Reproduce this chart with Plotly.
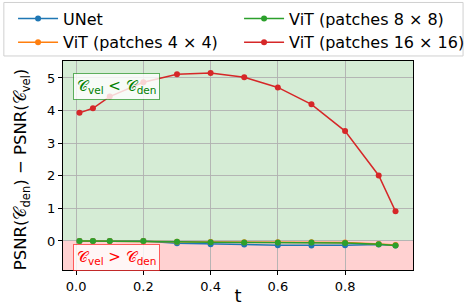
import plotly.graph_objects as go

t = [0.01, 0.05, 0.1, 0.2, 0.3, 0.4, 0.5, 0.6, 0.7, 0.8, 0.9, 0.95]
unet = [0.0, 0.0, 0.0, 0.0, -0.07, -0.10, -0.11, -0.13, -0.14, -0.13, -0.11, -0.14]
vit4 = [0.0, 0.0, 0.0, 0.0, -0.02, -0.03, -0.04, -0.04, -0.04, -0.05, -0.09, -0.12]
vit8 = [0.0, 0.0, 0.0, 0.0, -0.02, -0.04, -0.05, -0.05, -0.05, -0.06, -0.10, -0.14]
vit16 = [3.93, 4.07, 4.43, 4.87, 5.11, 5.15, 5.02, 4.71, 4.19, 3.37, 2.01, 0.91]

names = ["UNet", "ViT (patches 4 × 4)", "ViT (patches 8 × 8)", "ViT (patches 16 × 16)"]
series = [unet, vit4, vit8, vit16]
colors = ["#1f77b4", "#ff7f0e", "#2ca02c", "#d62728"]
legends = ["legend", "legend", "legend2", "legend2"]

xticks = [0.0, 0.2, 0.4, 0.6, 0.8]
yticks = [0, 1, 2, 3, 4, 5]
ytitle = "PSNR(𝒞<sub>den</sub>) − PSNR(𝒞<sub>vel</sub>)"

fig = go.Figure()
for n, s, c, lg in zip(names, series, colors, legends):
    fig.add_trace(go.Scatter(x=t, y=s, name=n, mode="lines+markers",
                             line=dict(color=c, width=1.5),
                             marker=dict(color=c, size=6), legend=lg))

fig.add_shape(type="rect", xref="paper", yref="y", x0=0, x1=1, y0=0, y1=10,
              fillcolor="rgba(44,160,44,0.2)", line_width=0, layer="below")
fig.add_shape(type="rect", xref="paper", yref="y", x0=0, x1=1, y0=-10, y1=0,
              fillcolor="rgba(255,0,0,0.18)", line_width=0, layer="below")
# legend frame
fig.add_shape(type="rect", xref="paper", yref="paper", x0=-0.169, x1=1.143,
              y0=1.024, y1=1.28, line=dict(color="#d0d0d0", width=1),
              fillcolor="rgba(0,0,0,0)", layer="above")

fig.add_annotation(x=0.119, y=4.73, xref="x", yref="y", showarrow=False,
                   text="𝒞<sub>vel</sub> < 𝒞<sub>den</sub>",
                   font=dict(size=15, color="green", family="DejaVu Sans"),
                   bgcolor="rgba(255,255,255,0.8)", bordercolor="rgba(0,128,0,0.6)",
                   borderwidth=1, borderpad=3)
fig.add_annotation(x=0.119, y=-0.51, xref="x", yref="y", showarrow=False,
                   text="𝒞<sub>vel</sub> > 𝒞<sub>den</sub>",
                   font=dict(size=15, color="red", family="DejaVu Sans"),
                   bgcolor="rgba(255,255,255,0.8)", bordercolor="rgba(255,0,0,0.6)",
                   borderwidth=1, borderpad=3)
# y-axis title
fig.add_annotation(x=-0.118, y=0.481, xref="paper", yref="paper", showarrow=False,
                   text=ytitle, textangle=-90, xanchor="center", yanchor="middle",
                   font=dict(size=16.5, color="black", family="DejaVu Sans"))

axis_common = dict(showline=True, linecolor="black", linewidth=1, mirror=True,
                   ticks="outside", ticklen=4, tickcolor="black",
                   showgrid=True, gridcolor="rgba(176,176,176,0.9)", gridwidth=1,
                   zeroline=False, tickfont=dict(size=13, color="black"),
                   automargin=False)

fig.update_xaxes(range=[-0.039, 1.002], tickvals=xticks, tickformat=".1f",
                 title=dict(text="t", font=dict(size=18, color="black")),
                 **axis_common)
fig.update_yaxes(range=[-0.89, 5.52], tickvals=yticks, **axis_common)

leg_common = dict(orientation="v", xref="container", yref="container",
                  xanchor="left", yanchor="top", font=dict(size=16),
                  borderwidth=0, bgcolor="rgba(0,0,0,0)", itemwidth=40,
                  tracegroupgap=0)

fig.update_layout(
    width=466, height=306,
    margin=dict(l=63, r=53, t=61, b=36, autoexpand=False),
    paper_bgcolor="white", plot_bgcolor="white",
    font=dict(family="DejaVu Sans", color="black"),
    legend=dict(x=0.028, y=0.995, **leg_common),
    legend2=dict(x=0.513, y=0.995, **leg_common),
    showlegend=True,
)

fig.write_html("out.html", config={"displayModeBar": False},
               post_script="document.body.style.margin='0';document.body.style.padding='0';")
